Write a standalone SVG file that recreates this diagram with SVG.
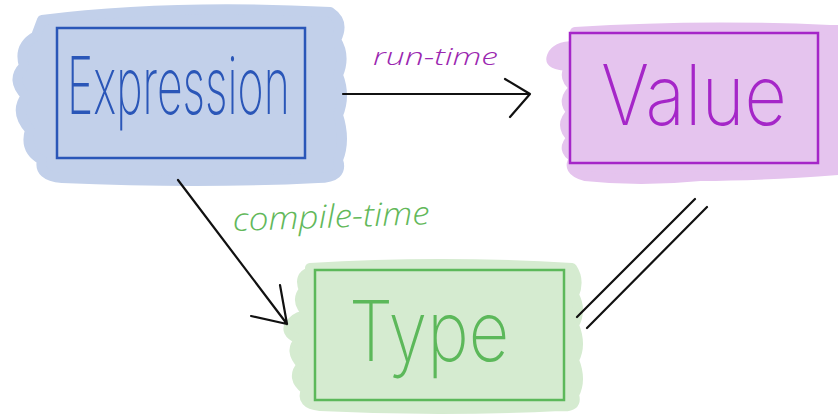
<svg xmlns="http://www.w3.org/2000/svg" width="838" height="414" viewBox="0 0 838 414">
<style>
.blob{stroke-width:10;stroke-linejoin:round}
.box{fill:none;stroke-width:2.5}
.big{font-family:Inter,"Open Sans","DejaVu Sans",sans-serif;font-weight:200}
.lbl{font-family:"Open Sans","DejaVu Sans",sans-serif;font-style:italic;font-weight:300}
.conn{fill:none;stroke:#111;stroke-width:2.2;stroke-linecap:round;stroke-linejoin:round}
</style>
<rect width="838" height="414" fill="#fff"/>
<g id="expression">
<path class="blob" fill="#c2d0ea" stroke="#c2d0ea" d="M42,20 Q170,4 330,12 Q345,22 336,40 Q346,56 338,75 Q346,96 338,115 Q346,140 338,160 Q344,178 318,178 Q200,184 62,178 Q38,176 42,160 Q24,150 30,130 Q14,112 26,96 Q10,80 24,66 Q18,46 36,36 Z"/>
<rect class="box" x="57" y="28" width="248" height="130" stroke="#2a56b8"/>
<text class="big" x="0" y="0" font-size="80" textLength="405" lengthAdjust="spacingAndGlyphs" fill="#2a56b8" transform="translate(67,114) scale(0.55,1)">Expression</text>
</g>
<g id="value">
<path class="blob" fill="#e5c4ee" stroke="#e5c4ee" d="M575,32 Q700,24 830,30 L838,30 L838,170 Q760,176 700,176 Q640,182 585,176 Q565,170 575,158 Q560,150 572,138 Q558,125 572,112 Q560,100 575,88 Q562,78 570,66 Q548,66 552,56 Q556,46 575,46 Z"/>
<rect class="box" x="570" y="33" width="248" height="130" stroke="#a526c8"/>
<text class="big" x="0" y="0" font-size="84" textLength="216" lengthAdjust="spacingAndGlyphs" fill="#a526c8" transform="translate(601,125) scale(0.86,1)">Value</text>
</g>
<g id="type">
<path class="blob" fill="#d5ebd0" stroke="#d5ebd0" d="M310,268 Q440,260 572,268 Q580,280 574,295 Q582,310 574,325 Q582,345 574,360 Q582,380 574,395 Q578,408 560,406 Q440,412 320,406 Q300,404 306,390 Q290,378 302,365 Q288,350 300,340 Q282,332 292,322 Q300,314 310,316 Q294,302 304,290 Q298,276 310,272 Z"/>
<rect class="box" x="315" y="270" width="249" height="130" stroke="#5cb85a"/>
<text class="big" x="0" y="0" font-size="84" textLength="193" lengthAdjust="spacingAndGlyphs" fill="#5cb85a" transform="translate(349,361) scale(0.83,1)">Type</text>
</g>
<g id="connectors">
<path class="conn" d="M343,94 L530,94 M505,79 L530,94 L510,117"/>
<path class="conn" d="M178,180 L287,324 M280,285 L287,324 L251,316"/>
<path class="conn" d="M577,317 L695,199 M587,328 L707,207"/>
<text class="lbl" x="373" y="65" font-size="24" textLength="125" lengthAdjust="spacingAndGlyphs" fill="#9b27b0">run-time</text>
<text class="lbl" x="233" y="231" font-size="32" textLength="197" lengthAdjust="spacingAndGlyphs" fill="#62b85a" transform="rotate(-2 233 231)">compile-time</text>
</g>
</svg>
